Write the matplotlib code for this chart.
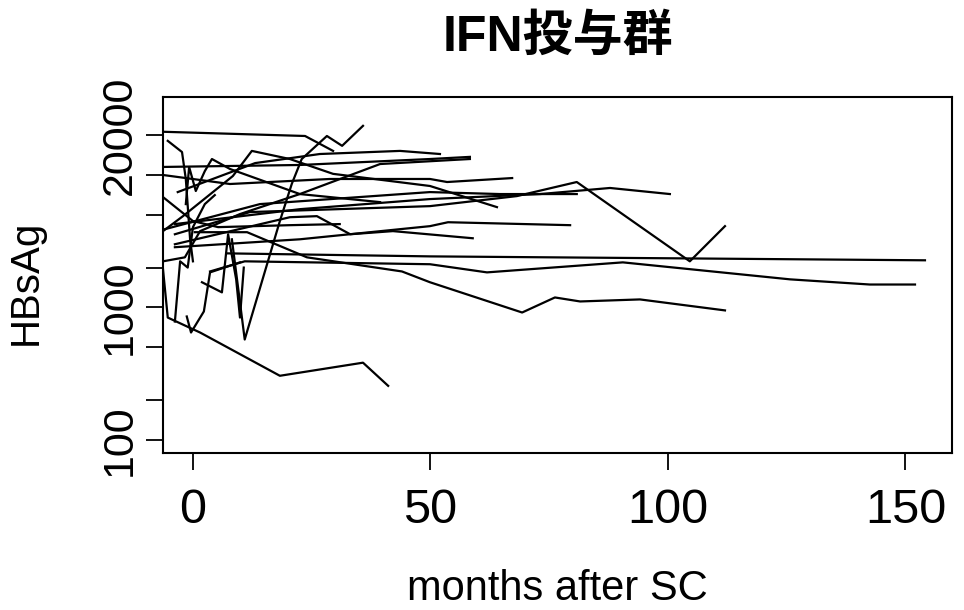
import numpy as np
import matplotlib.pyplot as plt

plt.rcParams['font.family'] = ['Liberation Sans', 'Noto Sans CJK JP', 'DejaVu Sans']

# months after SC / HBsAg per patient
months = [
    [-6.3, 23.6, 29.5],
    [8.2, 10.9, 18.3, 20.8, 22.9, 28.2, 31.4, 35.8],
    [-6.3, 22.5, 49.9, 58.3],
    [-3.8, 12, 49.9, 68.2, 80.8, 104.6, 112],
    [-3.8, 22.5, 49.9, 73.1, 87.8, 100.4],
    [-5.9, 14.1, 49.9, 64.6, 80.8],
    [-6.3, -2.1, 8.4, 12.4, 20.4, 29.5, 49.9, 64],
    [-6.3, 7.8, 28.8, 49.9, 53.5, 67.2],
    [-3.8, 22.5, 49.9, 53.7, 79.4],
    [-3.8, 20.4, 26.1, 33.1, 42.1, 58.9],
    [7.4, 49.9, 154.1],
    [3.6, 7.4, 10.9, 49.9, 61.9, 90.5, 125.7, 142.5, 152],
    [0.4, 11.4, 24, 44, 49.9, 69.3, 76.2, 81.5, 94.1, 112],
    [-6.3, -5.3, 1.5, 18.3, 35.8, 41.1],
    [-5.3, -2.3, -1.5, -0.6, 0],
    [-1.5, -0.8, 0.6, 2.5, 4, 7.8, 22.5, 39.4],
    [-6.3, -1.7, 1.5, 9.9, 22.5, 39.4, 58.3],
    [-6.3, 0, 5.3, 20.4, 30.9],
    [1.9, 6.1, 7.4, 9.1, 9.9, 10.7],
    [-3.8, -2.7, -1.1, 0, 2.5, 4.6],
    [-1.3, -0.4, 2.3, 3.6, 9.9],
    [-3.2, 13.1, 26.7, 43.6, 52],
]
hbsag = [
    [21200, 19700, 15200],
    [3270, 573, 4490, 8550, 13200, 19700, 16600, 23500],
    [11500, 11900, 13200, 13700],
    [3570, 5250, 5820, 6930, 8850, 2230, 4110],
    [4260, 5520, 6580, 7180, 7980, 7180],
    [3900, 6030, 7430, 7180, 7180],
    [3770, 4890, 9820, 15200, 13200, 10200, 8260, 5720],
    [10000, 8550, 9330, 9330, 8850, 9480],
    [2850, 3270, 4110, 4400, 4180],
    [3000, 4800, 4890, 3570, 3770, 3330],
    [2560, 2430, 2270],
    [1870, 2050, 2230, 2120, 1840, 2190, 1630, 1490, 1490],
    [3700, 3700, 2390, 1870, 1550, 916, 1190, 1110, 1150, 950],
    [1940, 839, 647, 305, 383, 256],
    [18100, 14900, 9330, 3270, 2230],
    [6030, 11500, 7570, 10700, 13200, 11100, 7180, 6240],
    [2230, 2390, 3770, 5070, 7180, 12100, 13200],
    [6810, 4490, 4040, 4180, 4260],
    [1550, 1300, 3570, 1630, 839, 2000],
    [783, 2230, 2000, 4040, 6030, 7050],
    [855, 647, 933, 1840, 2190],
    [7430, 12300, 14400, 15200, 14400],
]

xticks = [0, 50, 100, 150]
yticks = [100, 200, 500, 1000, 2000, 5000, 10000, 20000]
ytick_labels = ['100', '', '', '1000', '', '', '', '20000']

fig = plt.figure(figsize=(9.64, 6.10), dpi=100)
ax = fig.add_axes([0.1691, 0.2574, 0.8185, 0.5836])

for m, h in zip(months, hbsag):
    ax.plot(m, h, color='black', lw=1.6)

ax.set_yscale('log')
ax.set_xlim(-6.3, 159.8)
ax.set_ylim(79.7, 38800)
ax.set_xticks(xticks)
ax.set_xticklabels([str(t) for t in xticks])
ax.set_yticks(yticks)
ax.set_yticklabels(ytick_labels, rotation=90, va='center')
ax.yaxis.set_minor_locator(plt.NullLocator())

for s in ax.spines.values():
    s.set_linewidth(1.5)
ax.tick_params(axis='both', direction='out', length=12.5, width=1.3)
ax.tick_params(axis='x', pad=13, labelsize=35)
ax.tick_params(axis='y', pad=4, labelsize=31)

ax.set_title('IFN投与群', fontsize=36, fontweight='bold', pad=33)
ax.set_xlabel('months after SC', fontsize=30)
ax.xaxis.set_label_coords(0.5, -0.325)
ax.set_ylabel('HBsAg', fontsize=29)
ax.yaxis.set_label_coords(-0.15, 0.48)

fig.savefig('out.png', dpi=100)
